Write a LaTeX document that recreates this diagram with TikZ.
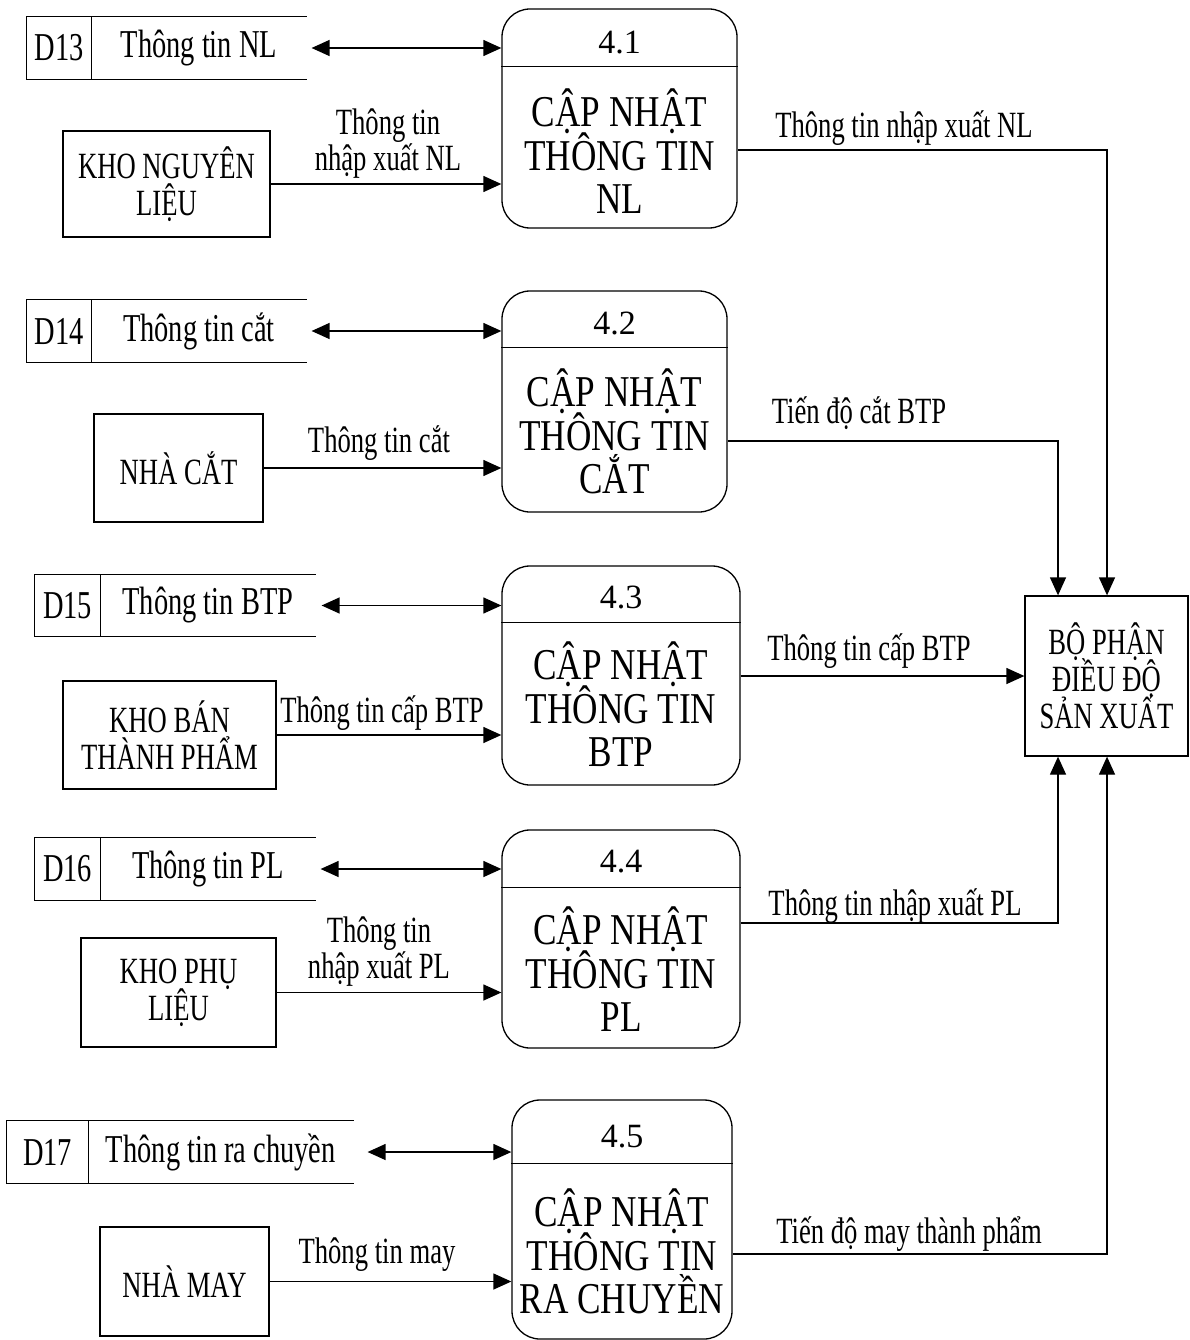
\documentclass[tikz,border=0pt]{standalone}
\usepackage{fontspec}
\setmainfont{Liberation Serif}[FakeStretch=0.72]
\newfontfamily\procfont{Liberation Serif}[FakeStretch=0.8]
\newfontfamily\numfont{Liberation Serif}
\usetikzlibrary{arrows.meta,calc,positioning}
\definecolor{INK}{HTML}{000000}
\newcommand\tightlines{\lineskiplimit=-100pt\relax}

\begin{document}
\begin{tikzpicture}[x=1pt,y=-1pt]
\tikzset{proc/.style={draw=INK,line width=1.3pt,rounded corners=28pt,inner sep=0pt},
 head/.style={font=\numfont\fontsize{34}{34}\selectfont,inner sep=0pt},
 body/.style={font={\procfont\fontsize{44}{43.5}\selectfont\tightlines},align=center,inner sep=0pt},
 ent/.style={draw=INK,line width=1.3pt,align=center,inner sep=0pt,font={\fontsize{37}{37}\selectfont\tightlines}},
 sid/.style={inner sep=0pt,minimum height=62pt,font=\fontsize{39.5}{39.5}\selectfont},
 sline/.style={INK,line width=1.3pt},
 flow/.style={-{Triangle[length=18pt,width=16pt]},INK,line width=1.3pt},
 biflow/.style={{Triangle[length=18pt,width=16pt]}-{Triangle[length=18pt,width=16pt]},INK,line width=1.3pt},
 lbl/.style={font=\fontsize{37}{33}\selectfont,inner sep=0pt},
 lbltwo/.style={font={\fontsize{37}{36}\selectfont\tightlines},inner sep=0pt,align=center}}
\useasboundingbox (0,0) rectangle (1189,1340);
% processes
\node[proc,minimum width=235pt,minimum height=219pt] (p1) at (619.5,118.5) {};
\node[proc,minimum width=225pt,minimum height=221pt] (p2) at (614.5,401.5) {};
\node[proc,minimum width=238pt,minimum height=219pt] (p3) at (621,675.5) {};
\node[proc,minimum width=238pt,minimum height=218pt] (p4) at (621,939) {};
\node[proc,minimum width=220pt,minimum height=239pt] (p5) at (622,1219.5) {};
\draw[sline] ([yshift=-58pt]p1.north west) -- ([yshift=-58pt]p1.north east);
\draw[sline] ([yshift=-57pt]p2.north west) -- ([yshift=-57pt]p2.north east);
\draw[sline] ([yshift=-57pt]p3.north west) -- ([yshift=-57pt]p3.north east);
\draw[sline] ([yshift=-58pt]p4.north west) -- ([yshift=-58pt]p4.north east);
\draw[sline] ([yshift=-64pt]p5.north west) -- ([yshift=-64pt]p5.north east);
\node[head] (h1) at ([yshift=-34pt]p1.north) {4.1};
\node[head] (h2) at ([yshift=-33pt]p2.north) {4.2};
\node[head] (h3) at ([yshift=-32pt]p3.north) {4.3};
\node[head] (h4) at ([yshift=-32pt]p4.north) {4.4};
\node[head] (h5) at ([yshift=-37pt]p5.north) {4.5};
\node[body] (b1) at ([yshift=-143pt]p1.north) {CẬP NHẬT\\THÔNG TIN\\NL};
\node[body] (b2) at ([yshift=-141pt]p2.north) {CẬP NHẬT\\THÔNG TIN\\CẮT};
\node[body] (b3) at ([yshift=-139pt]p3.north) {CẬP NHẬT\\THÔNG TIN\\BTP};
\node[body] (b4) at ([yshift=-140pt]p4.north) {CẬP NHẬT\\THÔNG TIN\\PL};
\node[body] (b5) at ([yshift=-152pt]p5.north) {CẬP NHẬT\\THÔNG TIN\\RA CHUYỀN};
% data stores
\node[sid,minimum width=64pt] (d13) at (59,48) {D13};
\node[sid,minimum width=215pt,right=0pt of d13] (s13) {Thông tin NL};
\node[sid,minimum width=64pt] (d14) at (59,331) {D14};
\node[sid,minimum width=215pt,right=0pt of d14] (s14) {Thông tin cắt};
\node[sid,minimum width=65pt] (d15) at (67.5,605.5) {D15};
\node[sid,minimum width=215pt,right=0pt of d15] (s15) {Thông tin BTP};
\node[sid,minimum width=65pt] (d16) at (67.5,869) {D16};
\node[sid,minimum width=215pt,right=0pt of d16] (s16) {Thông tin PL};
\node[sid,minimum width=81pt] (d17) at (47.5,1152) {D17};
\node[sid,minimum width=265pt,right=0pt of d17] (s17) {Thông tin ra chuyền};
\draw[sline] (s13.north east) -- (d13.north west) -- (d13.south west) -- (s13.south east);
\draw[sline] (d13.north east) -- (d13.south east);
\draw[sline] (s14.north east) -- (d14.north west) -- (d14.south west) -- (s14.south east);
\draw[sline] (d14.north east) -- (d14.south east);
\draw[sline] (s15.north east) -- (d15.north west) -- (d15.south west) -- (s15.south east);
\draw[sline] (d15.north east) -- (d15.south east);
\draw[sline] (s16.north east) -- (d16.north west) -- (d16.south west) -- (s16.south east);
\draw[sline] (d16.north east) -- (d16.south east);
\draw[sline] (s17.north east) -- (d17.north west) -- (d17.south west) -- (s17.south east);
\draw[sline] (d17.north east) -- (d17.south east);
\draw[biflow] ([xshift=5pt]s13.east) -- (s13 -| p1.west);
\draw[biflow] ([xshift=5pt]s14.east) -- (s14 -| p2.west);
\draw[biflow] ([xshift=6pt]s15.east) -- (s15 -| p3.west);
\draw[biflow] ([xshift=5pt]s16.east) -- (s16 -| p4.west);
\draw[biflow] ([xshift=14pt]s17.east) -- (s17 -| p5.west);
% external entities
\node[ent,minimum width=207pt,minimum height=106pt] (e1) at (166.5,184) {KHO NGUYÊN\\LIỆU};
\node[ent,minimum width=169pt,minimum height=108pt] (e2) at (178.5,468) {NHÀ CẮT};
\node[ent,minimum width=213pt,minimum height=108pt] (e3) at (169.5,735) {KHO BÁN\\THÀNH PHẨM};
\node[ent,minimum width=195pt,minimum height=109pt] (e4) at (178.5,992.5) {KHO PHỤ\\LIỆU};
\node[ent,minimum width=169pt,minimum height=109pt] (e5) at (184.5,1281.5) {NHÀ MAY};
\node[ent,minimum width=163pt,minimum height=160pt] (bp) at (1106.5,676) {BỘ PHẬN\\ĐIỀU ĐỘ\\SẢN XUẤT};
\draw[flow] (e1.east) -- (e1.east -| p1.west);
\draw[flow] (e2.east) -- (e2.east -| p2.west);
\draw[flow] (e3.east) -- (e3.east -| p3.west);
\draw[flow] (e4.east) -- (e4.east -| p4.west);
\draw[flow] (e5.east) -- (e5.east -| p5.west);
\node[lbltwo] (m1) at (388,144) {Thông tin\\nhập xuất NL};
\node[lbl,anchor=base] (m2) at (379,452) {Thông tin cắt};
\node[lbl,anchor=base] (m3) at (382,722) {Thông tin cấp BTP};
\node[lbltwo] (m4) at (379,952) {Thông tin\\nhập xuất PL};
\node[lbl,anchor=base] (m5) at (377,1263) {Thông tin may};
% flows to the scheduling unit
\coordinate (k1) at (1107,150);
\coordinate (k2) at (1058,441);
\coordinate (k4) at (1058,923);
\coordinate (k5) at (1107,1254);
\draw[flow] (p1.east |- k1) -- (k1) -- (k1 |- bp.north);
\draw[flow] (p2.east |- k2) -- (k2) -- (k2 |- bp.north);
\draw[flow] (p3.east |- bp.west) -- (bp.west);
\draw[flow] (p4.east |- k4) -- (k4) -- (k4 |- bp.south);
\draw[flow] (p5.east |- k5) -- (k5) -- (k5 |- bp.south);
\node[lbl,anchor=base] (l1) at (904,138) {Thông tin nhập xuất NL};
\node[lbl,anchor=base] (l2) at (859,423) {Tiến độ cắt BTP};
\node[lbl,anchor=base] (l3) at (869,660) {Thông tin cấp BTP};
\node[lbl,anchor=base] (l4) at (895,915) {Thông tin nhập xuất PL};
\node[lbl,anchor=base] (l5) at (909,1243) {Tiến độ may thành phẩm};
\end{tikzpicture}
\end{document}
